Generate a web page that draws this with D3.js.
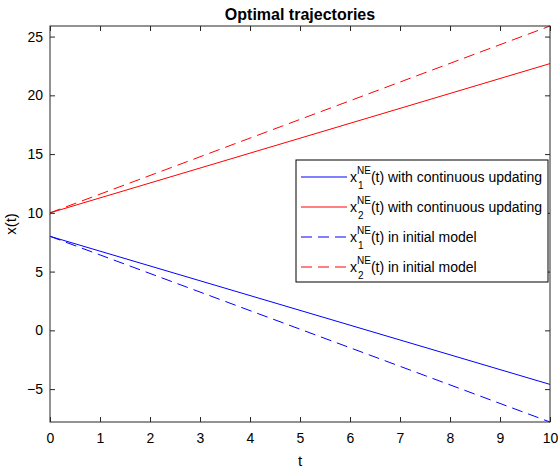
<!DOCTYPE html>
<html>
<head>
<meta charset="utf-8">
<script src="https://cdn.jsdelivr.net/npm/d3@7"></script>
<style>
  body { margin: 0; background: #fff; }
  svg { display: block; font-family: "Liberation Sans", Arial, Helvetica, sans-serif; }
</style>
</head>
<body>
<div id="chart"></div>
<script>
/* data */
const tValues   = [0, 5, 10];
const x1Cont    = [8, 1.7, -4.6];
const x2Cont    = [10, 16.35, 22.7];
const x1Init    = [8, 0.1, -7.8];
const x2Init    = [10, 17.95, 25.9];
const xTicks    = [0, 1, 2, 3, 4, 5, 6, 7, 8, 9, 10];
const yTicks    = [-5, 0, 5, 10, 15, 20, 25];

const series = [
  { name: "1", tail: "(t) with continuous updating", values: x1Cont, color: "#0000ff", dash: null },
  { name: "2", tail: "(t) with continuous updating", values: x2Cont, color: "#ff0000", dash: null },
  { name: "1", tail: "(t) in initial model",         values: x1Init, color: "#0000ff", dash: "11,6" },
  { name: "2", tail: "(t) in initial model",         values: x2Init, color: "#ff0000", dash: "11,6" }
];

const W = 558, H = 469;
const margin = { top: 26, right: 8, bottom: 47, left: 50 };
const w = W - margin.left - margin.right;
const h = H - margin.top - margin.bottom;
const axisColor = "#262626";

const x = d3.scaleLinear().domain([0, 10]).range([0, w]);
const y = d3.scaleLinear().domain([-7.8, 25.9]).range([h, 0]);

const svg = d3.select("#chart").append("svg")
  .attr("width", W).attr("height", H);
const g = svg.append("g").attr("transform", `translate(${margin.left},${margin.top})`);

// lines
const line = d3.line().x((d, i) => x(tValues[i])).y(d => y(d));
series.forEach(s => {
  g.append("path")
    .datum(s.values)
    .attr("fill", "none")
    .attr("stroke", s.color).attr("stroke-width", 1)
    .attr("stroke-dasharray", s.dash)
    .attr("d", line);
});

// axes (ticks pointing inward, box on)
function styleAxis(sel) {
  sel.select(".domain").remove();
  sel.selectAll(".tick line").attr("stroke", axisColor);
  sel.selectAll(".tick text").attr("fill", "#000").attr("font-size", "14px");
}
g.append("g").attr("transform", `translate(0,${h})`)
  .call(d3.axisBottom(x).tickValues(xTicks).tickSize(-5).tickPadding(11).tickFormat(d3.format("d")))
  .call(styleAxis);
g.append("g")
  .call(d3.axisTop(x).tickValues(xTicks).tickSize(-5).tickFormat(""))
  .call(styleAxis);
g.append("g")
  .call(d3.axisLeft(y).tickValues(yTicks).tickSize(-5).tickPadding(7).tickFormat(d3.format("d")))
  .call(styleAxis);
g.append("g").attr("transform", `translate(${w},0)`)
  .call(d3.axisRight(y).tickValues(yTicks).tickSize(-5).tickFormat(""))
  .call(styleAxis);

g.append("rect")
  .attr("x", 0).attr("y", 0).attr("width", w).attr("height", h)
  .attr("fill", "none").attr("stroke", axisColor).attr("stroke-width", 1);

// labels
svg.append("text")
  .attr("x", margin.left + w / 2).attr("y", 20)
  .attr("text-anchor", "middle").attr("font-size", "16px").attr("font-weight", "bold")
  .text("Optimal trajectories");
svg.append("text")
  .attr("x", margin.left + w / 2).attr("y", 466)
  .attr("text-anchor", "middle").attr("font-size", "15px")
  .text("t");
svg.append("text")
  .attr("transform", `translate(16,${margin.top + h / 2}) rotate(-90)`)
  .attr("text-anchor", "middle").attr("font-size", "15px")
  .text("x(t)");

// legend
const lg = svg.append("g").attr("transform", "translate(296,160)");
lg.append("rect")
  .attr("x", 0).attr("y", 0).attr("width", 252).attr("height", 122)
  .attr("fill", "#fff").attr("stroke", "#000").attr("stroke-width", 1);
series.forEach((s, i) => {
  const cy = 17 + i * 30;
  lg.append("line")
    .attr("x1", 5).attr("x2", 51).attr("y1", cy).attr("y2", cy)
    .attr("stroke", s.color).attr("stroke-width", 1)
    .attr("stroke-dasharray", s.dash);
  const t = lg.append("text").attr("x", 54).attr("y", cy + 5).attr("font-size", "14px").attr("fill", "#000");
  t.append("tspan").text("x");
  t.append("tspan").attr("font-size", "10px").attr("dy", -8).text("NE");
  t.append("tspan").attr("font-size", "14px").attr("dy", 8).text(s.tail);
  lg.append("text").attr("x", 62).attr("y", cy + 12).attr("font-size", "10px").attr("fill", "#000").text(s.name);
});
</script>
</body>
</html>
